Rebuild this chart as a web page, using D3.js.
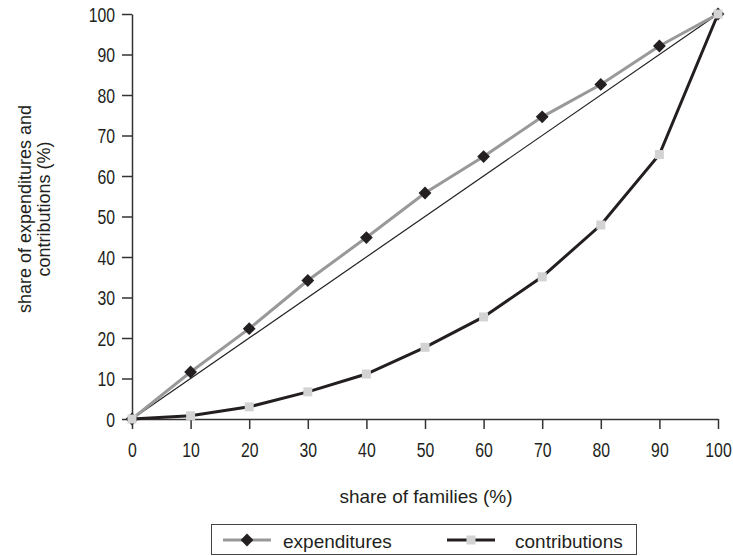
<!DOCTYPE html>
<html><head><meta charset="utf-8">
<script src="https://cdn.jsdelivr.net/npm/d3@7"></script>
<style>
body{margin:0;background:#fff;}
svg text{font-family:"Liberation Sans Narrow","Liberation Sans",sans-serif;fill:#231f20;}
</style></head>
<body><svg id="c" width="733" height="556"></svg>
<script>
const families = [0,10,20,30,40,50,60,70,80,90,100];
const expenditures = [0,11.6,22.3,34.2,44.8,55.8,64.8,74.6,82.6,92.1,100];
const contributions = [0,0.8,3.0,6.7,11.1,17.7,25.2,35.1,47.9,65.3,100];
const equality = [0,100];
const xTicks = [0,10,20,30,40,50,60,70,80,90,100];
const yTicks = [0,10,20,30,40,50,60,70,80,90,100];
const seriesNames = ["expenditures","contributions"];

const svg = d3.select("#c");
const FS = 19;
const TFS = 20.5, SX = 0.77;
const x = d3.scaleLinear().domain([0,100]).range([132,718]);
const y = d3.scaleLinear().domain([0,100]).range([419,14]);

// axes
const xa = svg.append("g").attr("transform","translate(0,419)")
  .call(d3.axisBottom(x).tickValues(xTicks).tickSize(10).tickPadding(13).tickSizeOuter(0));
const ya = svg.append("g").attr("transform","translate(132,0)")
  .call(d3.axisLeft(y).tickValues(yTicks).tickSize(10).tickPadding(7).tickSizeOuter(0));
[xa,ya].forEach(a=>{
  a.selectAll("path,line").attr("stroke","#333").attr("stroke-width",1.5);
  a.selectAll("text").attr("font-size",TFS).attr("font-family",null).attr("fill","#231f20")
    .attr("transform",`scale(${SX},1)`);
});
ya.selectAll("text").attr("x",-17/SX).attr("dy","0.35em");

// equality diagonal
svg.append("line")
  .attr("x1",x(equality[0])).attr("y1",y(equality[0]))
  .attr("x2",x(equality[1])).attr("y2",y(equality[1]))
  .attr("stroke","#231f20").attr("stroke-width",1.2);

const line = d3.line().x((d,i)=>x(families[i])).y(d=>y(d));
svg.append("path").datum(contributions).attr("d",line)
  .attr("fill","none").attr("stroke","#231f20").attr("stroke-width",3);
svg.append("path").datum(expenditures).attr("d",line)
  .attr("fill","none").attr("stroke","#999").attr("stroke-width",3);

const diamond = d3.symbol().type(d3.symbolSquare).size(82);
svg.selectAll(".dia").data(expenditures).enter().append("path")
  .attr("d",diamond)
  .attr("transform",(d,i)=>`translate(${x(families[i])},${y(d)}) rotate(45)`)
  .attr("fill","#231f20");
svg.selectAll(".sq").data(contributions).enter().append("rect")
  .attr("x",(d,i)=>x(families[i])-4.5).attr("y",d=>y(d)-4.5)
  .attr("width",9).attr("height",9).attr("fill","#d3d3d3");

// axis titles
svg.append("text").attr("x",426).attr("y",503).attr("text-anchor","middle")
  .attr("font-size",FS).text("share of families (%)");
const yt = svg.append("text").attr("transform","translate(0,209) rotate(-90)")
  .attr("text-anchor","middle").attr("font-size",18);
yt.append("tspan").attr("x",0).attr("y",31).text("share of expenditures and");
yt.append("tspan").attr("x",0).attr("y",50).text("contributions (%)");

// legend
svg.append("rect").attr("x",211.5).attr("y",524.5).attr("width",425).attr("height",30)
  .attr("fill","none").attr("stroke","#444").attr("stroke-width",1);
const ly = 540;
svg.append("line").attr("x1",223).attr("x2",271).attr("y1",ly).attr("y2",ly)
  .attr("stroke","#999").attr("stroke-width",3);
svg.append("path").attr("d",diamond).attr("transform",`translate(247,${ly}) rotate(45)`).attr("fill","#231f20");
svg.append("text").attr("x",283).attr("y",547.5).attr("font-size",FS).text(seriesNames[0]);
svg.append("line").attr("x1",447).attr("x2",495).attr("y1",ly).attr("y2",ly)
  .attr("stroke","#231f20").attr("stroke-width",3);
svg.append("rect").attr("x",466.5).attr("y",ly-4.5).attr("width",9).attr("height",9).attr("fill","#d3d3d3");
svg.append("text").attr("x",515).attr("y",547.5).attr("font-size",FS).text(seriesNames[1]);
</script></body></html>
